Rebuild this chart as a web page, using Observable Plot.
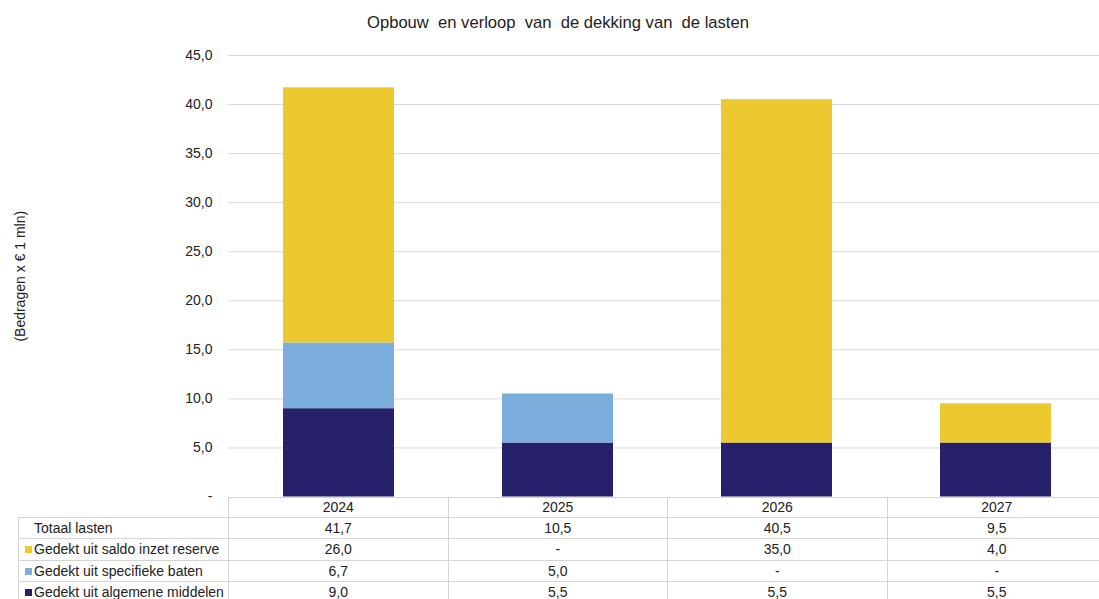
<!DOCTYPE html>
<html>
<head>
<meta charset="utf-8">
<script src="https://cdn.jsdelivr.net/npm/d3@7"></script>
<script src="https://cdn.jsdelivr.net/npm/@observablehq/plot@0.6"></script>
<style>
  html, body { margin: 0; padding: 0; background: #fff; overflow: hidden; width: 1099px; height: 599px; }
  body { position: relative; font-family: "Liberation Sans", Arial, sans-serif; color: #222; }
  #title { position: absolute; top: 13px; left: 0; width: 1116px; text-align: center; font-size: 16.6px; white-space: pre; }
  #chart { position: absolute; top: 0; left: 0; width: 1106px; }
  #chart svg { max-width: none !important; }
  table { position: absolute; left: 18px; top: 497px; border-collapse: collapse; font-size: 14px; table-layout: fixed; }
  td { border: 1px solid #d4d4d4; padding: 0; text-align: center; height: 20.5px; line-height: 18px; white-space: nowrap; overflow: hidden; }
  td.lab { text-align: left; padding-left: 6px; }
  tr.head td { height: 18.7px; }
  tr.head td.blank { border-top: none; border-left: none; }
  .sw { display: inline-block; width: 7px; height: 7px; margin-right: 2px; vertical-align: 1px; }
  .nosw { display: inline-block; width: 9px; }
</style>
</head>
<body>
<div id="chart"></div>
<div id="title">Opbouw  en verloop  van  de dekking van  de lasten</div>
<table id="tbl"></table>
<script>
const years = ["2024", "2025", "2026", "2027"];
const seriesNames = ["Gedekt uit algemene middelen", "Gedekt uit specifieke baten", "Gedekt uit saldo inzet reserve"];
const seriesColors = ["#27216b", "#7aacdc", "#ecc831"];
const algemeneMiddelen = [9.0, 5.5, 5.5, 5.5];
const specifiekeBaten = [6.7, 5.0, 0, 0];
const inzetReserve = [26.0, 0, 35.0, 4.0];
const totaalLasten = [41.7, 10.5, 40.5, 9.5];
const yTicks = [0, 5, 10, 15, 20, 25, 30, 35, 40, 45];
const yLabel = "(Bedragen x € 1 mln)";

const seriesValues = [algemeneMiddelen, specifiekeBaten, inzetReserve];
const data = [];
years.forEach((yr, i) => {
  seriesNames.forEach((s, j) => data.push({year: yr, series: s, value: seriesValues[j][i]}));
});

const fmt = v => v === 0 ? "-" : v.toFixed(1).replace(".", ",");

const chart = Plot.plot({
  width: 1106,
  height: 515,
  marginLeft: 228,
  marginRight: 0,
  marginTop: 55,
  marginBottom: 18.5,
  style: {fontFamily: "Liberation Sans, Arial, sans-serif", fontSize: "14px", color: "#222", background: "transparent", maxWidth: "none"},
  x: {domain: years, padding: 0, axis: null},
  y: {domain: [0, 45]},
  color: {domain: seriesNames, range: seriesColors},
  marks: [
    Plot.gridY(yTicks.filter(t => t > 0), {stroke: "#d9d9d9", strokeOpacity: 1}),
    Plot.barY(data, {x: "year", y: "value", fill: "series", insetLeft: 54, insetRight: 54}),
    Plot.axisY({ticks: yTicks, tickSize: 0, tickPadding: 16, tickFormat: fmt, label: null, fontSize: 14}),
    Plot.text([yLabel], {text: d => d, frameAnchor: "left", textAnchor: "middle", rotate: -90, dx: -208, fontSize: 14, fill: "#222"})
  ]
});
chart.style.maxWidth = "none";
document.getElementById("chart").appendChild(chart);

// data table
const tbl = document.getElementById("tbl");
const colW = [210, 219.5, 219.5, 219.5, 219.5];
const cg = document.createElement("colgroup");
colW.forEach(w => { const c = document.createElement("col"); c.style.width = w + "px"; cg.appendChild(c); });
tbl.appendChild(cg);
tbl.style.width = colW.reduce((a, b) => a + b, 0) + "px";

const head = document.createElement("tr");
head.className = "head";
head.innerHTML = `<td class="blank"></td>` + years.map(y => `<td>${y}</td>`).join("");
tbl.appendChild(head);

const rows = [
  {label: "Totaal lasten", color: null, values: totaalLasten},
  {label: seriesNames[2], color: seriesColors[2], values: inzetReserve},
  {label: seriesNames[1], color: seriesColors[1], values: specifiekeBaten},
  {label: seriesNames[0], color: seriesColors[0], values: algemeneMiddelen}
];
rows.forEach(r => {
  const tr = document.createElement("tr");
  const sw = r.color ? `<span class="sw" style="background:${r.color}"></span>` : `<span class="nosw"></span>`;
  tr.innerHTML = `<td class="lab">${sw}${r.label}</td>` + r.values.map(v => `<td>${fmt(v)}</td>`).join("");
  tbl.appendChild(tr);
});
</script>
</body>
</html>
